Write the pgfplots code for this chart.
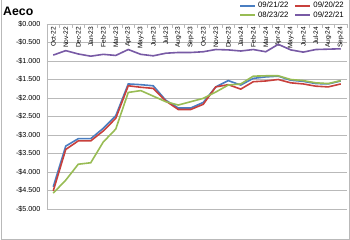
\documentclass[border=0pt]{standalone}
\usepackage{pgfplots}
\usepackage{pgfplotstable}
\pgfplotsset{compat=1.18}
\usepackage{fontspec}
\setmainfont{Liberation Sans}
\definecolor{cblue}{RGB}{74,126,193}
\definecolor{cred}{RGB}{200,64,60}
\definecolor{cgreen}{RGB}{152,188,84}
\definecolor{cpurple}{RGB}{120,90,165}
\definecolor{cgrid}{RGB}{185,185,185}
\pgfplotstableread{
i blue red green purple
0 -4.40 -4.51 -4.57 -0.84
1 -3.30 -3.39 -4.22 -0.72
2 -3.10 -3.16 -3.79 -0.81
3 -3.10 -3.16 -3.75 -0.87
4 -2.82 -2.89 -3.19 -0.82
5 -2.48 -2.55 -2.84 -0.85
6 -1.62 -1.67 -1.85 -0.69
7 -1.64 -1.71 -1.80 -0.82
8 -1.67 -1.74 -1.95 -0.86
9 -2.06 -2.08 -2.10 -0.79
10 -2.27 -2.31 -2.19 -0.77
11 -2.27 -2.31 -2.10 -0.77
12 -2.12 -2.17 -2.01 -0.75
13 -1.70 -1.70 -1.84 -0.69
14 -1.53 -1.64 -1.65 -0.70
15 -1.65 -1.76 -1.62 -0.73
16 -1.47 -1.56 -1.41 -0.69
17 -1.43 -1.54 -1.40 -0.75
18 -1.41 -1.50 -1.40 -0.55
19 -1.52 -1.59 -1.50 -0.70
20 -1.55 -1.62 -1.53 -0.76
21 -1.61 -1.68 -1.59 -0.69
22 -1.62 -1.70 -1.61 -0.68
23 -1.54 -1.62 -1.53 -0.67
}\datatable
\begin{document}
\begin{tikzpicture}[x=1pt,y=1pt]
\useasboundingbox (0,0) rectangle (350,240);
\draw[gray!55, line width=0.8pt] (1,240) -- (1,1) -- (349,1) -- (349,240);
\node[anchor=base west, inner sep=0pt, font=\bfseries\fontsize{12.3}{14}\selectfont] at (3,224) {Aeco};
\begin{axis}[
  at={(47pt,31pt)}, anchor=south west,
  scale only axis, width=300pt, height=185pt,
  xmin=-0.5, xmax=23.5, ymin=-5, ymax=0,
  axis x line*=top, axis y line*=left,
  axis line style={cgrid, line width=0.7pt},
  tick align=inside,
  xtick={0,...,23},
  xticklabels={Oct-22,Nov-22,Dec-22,Jan-23,Feb-23,Mar-23,Apr-23,May-23,Jun-23,Jul-23,Aug-23,Sep-23,Oct-23,Nov-23,Dec-23,Jan-24,Feb-24,Mar-24,Apr-24,May-24,Jun-24,Jul-24,Aug-24,Sep-24},
  major x tick style={draw=none},
  minor xtick={0.5,1.5,...,23.5},
  minor x tick style={cgrid, line width=0.7pt},
  minor tick length=4pt,
  xticklabel style={yshift=-1.5pt, rotate=90, anchor=east, font=\fontsize{6.6}{7}\selectfont, inner sep=1pt},
  ytick={-5,-4.5,...,0},
  yticklabels={-\$5.000,-\$4.500,-\$4.000,-\$3.500,-\$3.000,-\$2.500,-\$2.000,-\$1.500,-\$1.000,-\$0.500,\$0.000},
  yticklabel style={font=\fontsize{7.2}{8}\selectfont, xshift=-3pt},
  major y tick style={cgrid},
  ymajorgrids,
  grid style={cgrid, line width=0.7pt},
  legend style={at={(1,1.135)}, anchor=north east, draw=none, fill=none,
    font=\fontsize{7.8}{8}\selectfont, inner sep=1pt, row sep=-1.5pt},
  legend columns=2,
  legend cell align=left,
  /tikz/every even column/.append style={column sep=4pt},
  legend image code/.code={\draw[#1, line width=2pt] (0pt,0pt) -- (15pt,0pt);},
  every axis plot/.append style={line width=1.6pt, mark=none},
]
\addplot[cblue] table[x=i, y=blue] {\datatable};
\addlegendentry{09/21/22}
\addplot[cred] table[x=i, y=red] {\datatable};
\addlegendentry{09/20/22}
\addplot[cgreen] table[x=i, y=green] {\datatable};
\addlegendentry{08/23/22}
\addplot[cpurple] table[x=i, y=purple] {\datatable};
\addlegendentry{09/22/21}
\end{axis}
\end{tikzpicture}
\end{document}
